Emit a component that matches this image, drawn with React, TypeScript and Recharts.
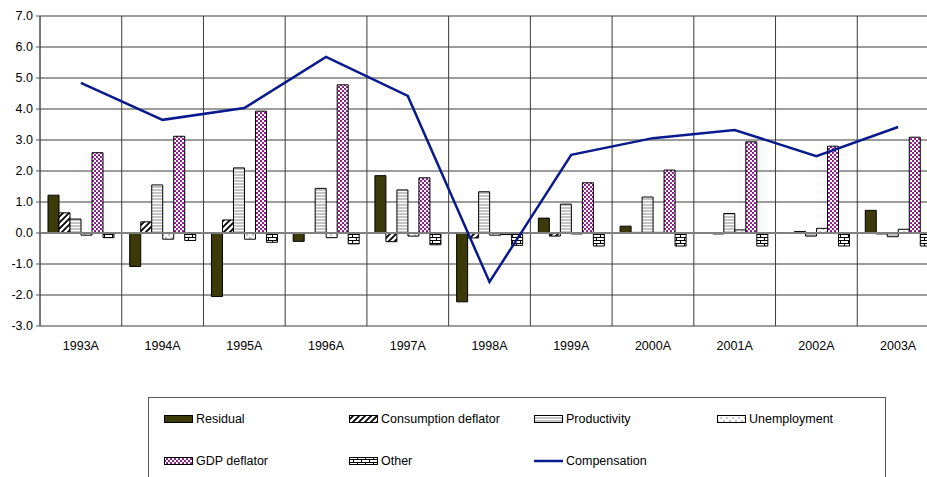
import React from 'react';
import { ComposedChart, Bar, Line, XAxis, YAxis, CartesianGrid, ReferenceLine } from 'recharts';

const years = ['1993A', '1994A', '1995A', '1996A', '1997A', '1998A', '1999A', '2000A', '2001A', '2002A', '2003A'];
const residual = [1.22, -1.08, -2.05, -0.27, 1.85, -2.22, 0.48, 0.22, 0.01, 0.01, 0.73];
const consumption = [0.65, 0.36, 0.42, 0.0, -0.28, -0.16, -0.1, 0.02, -0.03, 0.05, -0.03];
const productivity = [0.45, 1.55, 2.1, 1.44, 1.39, 1.33, 0.93, 1.16, 0.63, -0.1, -0.12];
const unemployment = [-0.07, -0.2, -0.2, -0.15, -0.1, -0.07, -0.03, 0.02, 0.1, 0.15, 0.12];
const gdpDeflator = [2.59, 3.12, 3.93, 4.78, 1.78, -0.05, 1.62, 2.03, 2.94, 2.8, 3.09];
const other = [-0.15, -0.24, -0.3, -0.35, -0.38, -0.4, -0.42, -0.42, -0.42, -0.42, -0.42];
const compensation = [4.84, 3.65, 4.03, 5.68, 4.42, -1.58, 2.52, 3.06, 3.32, 2.48, 3.42];
const yTicks = [-3, -2, -1, 0, 1, 2, 3, 4, 5, 6, 7];

const data = years.map((year, i) => ({
  year,
  residual: residual[i],
  consumption: consumption[i],
  productivity: productivity[i],
  unemployment: unemployment[i],
  gdp: gdpDeflator[i],
  other: other[i],
  compensation: compensation[i],
}));

const FONT = '"Liberation Sans", Arial, Helvetica, sans-serif';
const NAVY = '#081a8c';
const OLIVE = '#3d3a0a';

const Patterns = () => (
  <svg width="0" height="0" style={{ position: 'absolute' }}>
    <defs>
      <pattern id="pDiag" patternUnits="userSpaceOnUse" width="6" height="6">
        <rect width="6" height="6" fill="#fff" />
        <path d="M-1,1 l2,-2 M0,6 l6,-6 M5,7 l2,-2" stroke="#000" strokeWidth="1.8" />
      </pattern>
      <pattern id="pHoriz" patternUnits="userSpaceOnUse" width="4" height="3">
        <rect width="4" height="3" fill="#fff" />
        <rect width="4" height="2" fill="#c4c4c4" />
      </pattern>
      <pattern id="pDotsGray" patternUnits="userSpaceOnUse" width="6" height="6">
        <rect width="6" height="6" fill="#fff" />
        <circle cx="1" cy="1" r="0.8" fill="#808080" />
        <circle cx="4" cy="4" r="0.8" fill="#808080" />
      </pattern>
      <pattern id="pDotsPurple" patternUnits="userSpaceOnUse" width="4" height="4">
        <rect width="4" height="4" fill="#fff" />
        <circle cx="1" cy="1" r="1.05" fill="#800080" />
        <circle cx="3" cy="3" r="1.05" fill="#800080" />
      </pattern>
      <pattern id="pBrick" patternUnits="userSpaceOnUse" width="8" height="6">
        <rect width="8" height="6" fill="#fff" />
        <path d="M0,0.5 H8 M0,3.5 H8 M0.5,0 V3.5 M4.5,3.5 V6" stroke="#000" strokeWidth="1" />
      </pattern>
    </defs>
  </svg>
);

const legendItems = [
  { name: 'Residual', fill: OLIVE, row: 0, col: 0 },
  { name: 'Consumption deflator', fill: 'url(#pDiag)', row: 0, col: 1 },
  { name: 'Productivity', fill: 'url(#pHoriz)', row: 0, col: 2 },
  { name: 'Unemployment', fill: 'url(#pDotsGray)', row: 0, col: 3 },
  { name: 'GDP deflator', fill: 'url(#pDotsPurple)', row: 1, col: 0 },
  { name: 'Other', fill: 'url(#pBrick)', row: 1, col: 1 },
  { name: 'Compensation', fill: 'line', row: 1, col: 2 },
];

const colX = [15, 200, 385, 568];
const rowY = [21, 63];

const LegendBox = () => (
  <div
    style={{
      position: 'absolute',
      left: 148,
      top: 397,
      width: 738,
      height: 120,
      border: '1px solid #555',
      boxSizing: 'border-box',
      fontFamily: FONT,
      fontSize: 12.5,
      color: '#000',
    }}
  >
    {legendItems.map((it) => (
      <div
        key={it.name}
        style={{
          position: 'absolute',
          left: colX[it.col],
          top: rowY[it.row] - 8,
          height: 16,
          display: 'flex',
          alignItems: 'center',
          whiteSpace: 'nowrap',
        }}
      >
        <svg width="29" height="10" style={{ marginRight: 3 }}>
          {it.fill === 'line' ? (
            <line x1="0" y1="5" x2="29" y2="5" stroke={NAVY} strokeWidth="2.5" />
          ) : (
            <rect x="0.5" y="1.5" width="28" height="7" fill={it.fill} stroke="#000" strokeWidth="1" />
          )}
        </svg>
        <span>{it.name}</span>
      </div>
    ))}
  </div>
);

const vGen = (props: any) => {
  const off = props && props.offset ? props.offset : { left: 40, width: 899 };
  const n = years.length;
  return Array.from({ length: n + 1 }, (_, i) => off.left + (i * off.width) / n);
};

export default function App() {
  return (
    <div
      style={{
        position: 'absolute',
        left: 0,
        top: 0,
        width: 927,
        height: 477,
        overflow: 'hidden',
        background: '#fff',
      }}
    >
      <Patterns />
      <ComposedChart
        width={940}
        height={477}
        data={data}
        margin={{ top: 16, right: 1, bottom: 121, left: 0 }}
        barGap={0}
        barSize={11}
        style={{ fontFamily: FONT }}
      >
        <CartesianGrid
          stroke="#3a3a3a"
          strokeWidth={1}
          verticalCoordinatesGenerator={vGen}
        />
        <XAxis
          dataKey="year"
          axisLine={false}
          tickLine={false}
          tickMargin={9}
          height={30}
          interval={0}
          tick={{ fill: '#000', fontSize: 12.5, fontFamily: FONT }}
        />
        <YAxis
          domain={[-3, 7]}
          ticks={yTicks}
          type="number"
          width={40}
          interval={0}
          allowDataOverflow
          tickFormatter={(v: number) => v.toFixed(1)}
          axisLine={{ stroke: '#555', strokeWidth: 1 }}
          tickLine={{ stroke: '#555' }}
          tickSize={4}
          tickMargin={3}
          tick={{ fill: '#000', fontSize: 12.5, fontFamily: FONT }}
        />
        <ReferenceLine y={0} stroke="#808080" strokeWidth={2} />
        <Bar dataKey="residual" fill={OLIVE} stroke="#000" strokeWidth={1} isAnimationActive={false} />
        <Bar dataKey="consumption" fill="url(#pDiag)" stroke="#000" strokeWidth={1} isAnimationActive={false} />
        <Bar dataKey="productivity" fill="url(#pHoriz)" stroke="#000" strokeWidth={1} isAnimationActive={false} />
        <Bar dataKey="unemployment" fill="url(#pDotsGray)" stroke="#000" strokeWidth={1} isAnimationActive={false} />
        <Bar dataKey="gdp" fill="url(#pDotsPurple)" stroke="#000" strokeWidth={1} isAnimationActive={false} />
        <Bar dataKey="other" fill="url(#pBrick)" stroke="#000" strokeWidth={1} isAnimationActive={false} />
        <Line
          dataKey="compensation"
          type="linear"
          stroke={NAVY}
          strokeWidth={2.5}
          dot={false}
          activeDot={false}
          isAnimationActive={false}
        />
      </ComposedChart>
      <LegendBox />
    </div>
  );
}
